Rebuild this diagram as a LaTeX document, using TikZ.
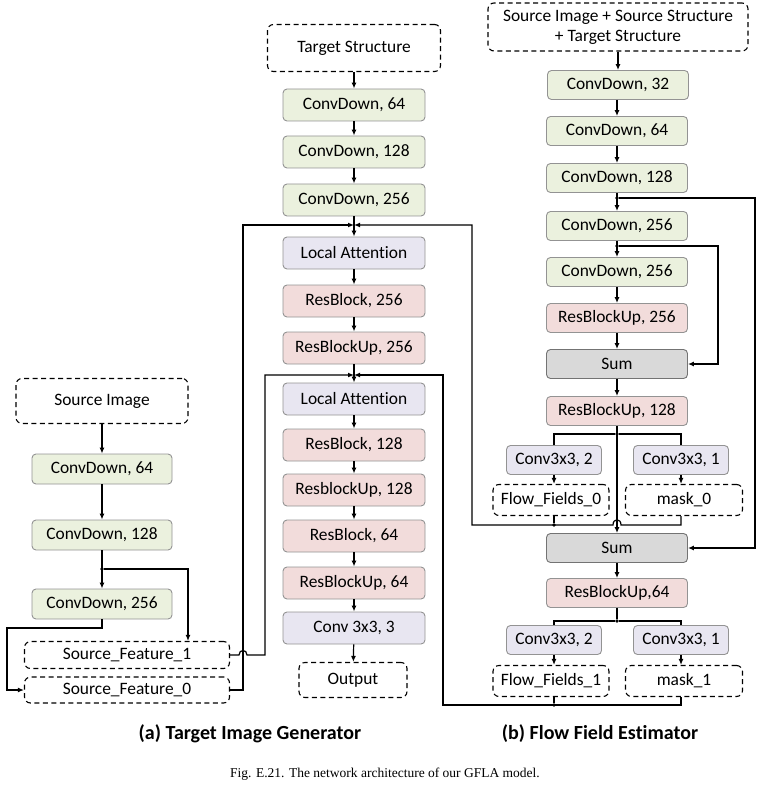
\documentclass[tikz,border=0pt]{standalone}
\usepackage{fontspec}
\setmainfont{Carlito}[Ligatures=NoCommon]
\newfontfamily\capfont{Liberation Serif}
\usetikzlibrary{arrows.meta,calc}
\definecolor{gfill}{HTML}{EBF1DE}
\definecolor{pfill}{HTML}{F2DCDB}
\definecolor{lfill}{HTML}{E8E6F1}
\definecolor{sfill}{HTML}{D9D9D9}
\definecolor{bord}{HTML}{939393}
\begin{document}
\begin{tikzpicture}[x=1pt,y=-1pt,
  box/.style={draw=bord,line width=0.9pt,rounded corners=4pt,inner sep=0pt,
    font=\fontsize{17.4}{20}\selectfont},
  abox/.style={box,minimum width=142pt,minimum height=32pt},
  lbox/.style={box,minimum width=140pt,minimum height=30pt},
  bbox/.style={box,minimum width=141pt,minimum height=29pt},
  cbox/.style={box,minimum width=95pt,minimum height=29pt,fill=lfill},
  green/.style={fill=gfill},
  pink/.style={fill=pfill},
  lav/.style={fill=lfill},
  grey/.style={fill=sfill,draw=gray!90!black},
  dbox/.style={draw=black,dash pattern=on 5pt off 3.5pt,line width=1.1pt,rounded corners=6pt,
    align=center,inner sep=0pt,font=\fontsize{17.4}{20}\selectfont},
  arr/.style={-{Latex[length=6pt,width=5pt]},line width=1.2pt},
  ln/.style={line width=1.2pt},
  jdot/.style={circle,fill=black,inner sep=0pt,minimum size=3.8pt}
]
\useasboundingbox (0,0) rectangle (763,786);

% ---------- column (a) ----------
\node[dbox,minimum width=173pt,minimum height=47pt] (ts) at (354,48) {Target Structure};
\node[abox,green] (a1) at (354,105) {ConvDown, 64};
\node[abox,green] (a2) at (354,152) {ConvDown, 128};
\node[abox,green] (a3) at (354,200) {ConvDown, 256};
\node[abox,lav]   (la1) at (354,253) {Local Attention};
\node[abox,pink]  (rb1) at (354,301) {ResBlock, 256};
\node[abox,pink]  (rbu1) at (354,348) {ResBlockUp, 256};
\node[abox,lav]   (la2) at (354,399) {Local Attention};
\node[abox,pink]  (rb2) at (354,445) {ResBlock, 128};
\node[abox,pink]  (rbu2) at (354,490) {ResblockUp, 128};
\node[abox,pink]  (rb3) at (354,536) {ResBlock, 64};
\node[abox,pink]  (rbu3) at (354,583) {ResBlockUp, 64};
\node[abox,lav]   (cv) at (354,628) {Conv 3x3, 3};
\node[dbox,minimum width=108pt,minimum height=35pt] (out) at (353,680) {Output};
\coordinate (ja1) at (354,225);
\coordinate (ja2) at (354,375);

\draw[arr] (ts) -- (a1);
\draw[arr] (a1) -- (a2);
\draw[arr] (a2) -- (a3);
\draw[arr] (a3) -- (la1);
\draw[arr] (la1) -- (rb1);
\draw[arr] (rb1) -- (rbu1);
\draw[arr] (rbu1) -- (la2);
\draw[arr] (la2) -- (rb2);
\draw[arr] (rb2) -- (rbu2);
\draw[arr] (rbu2) -- (rb3);
\draw[arr] (rb3) -- (rbu3);
\draw[arr] (rbu3) -- (cv);
\draw[arr] (cv) -- (out);

% ---------- left column ----------
\node[dbox,minimum width=172pt,minimum height=45pt] (si) at (102,401) {Source Image};
\node[lbox,green] (l1) at (102,469) {ConvDown, 64};
\node[lbox,green] (l2) at (102,535) {ConvDown, 128};
\node[lbox,green] (l3) at (102,604) {ConvDown, 256};
\node[dbox,minimum width=205pt,minimum height=27pt] (sf1) at (127,655) {Source\_Feature\_1};
\node[dbox,minimum width=205pt,minimum height=26pt] (sf0) at (127,690) {Source\_Feature\_0};
\node[jdot] (j1) at (102,569) {};

\draw[arr] (si) -- (l1);
\draw[arr] (l1) -- (l2);
\draw[arr] (l2) -- (l3);
\draw[arr] (j1) -| ($(sf1.north)+(61,0)$);
\draw[arr] (l3.south) |- (7,628) |- (sf0.west);
\draw[arr] (sf0.east) -| (243,225) -- (ja1);
\draw[arr] (sf1.east) -- (239,655) .. controls (239,649) and (247,649) .. (247,655) -- (265,655) |- (ja2);

% ---------- column (b) ----------
\node[dbox,minimum width=260pt,minimum height=48pt] (tb) at (618,27) {Source Image + Source Structure\\+ Target Structure};
\node[bbox,green] (b1) at (618,85) {ConvDown, 32};
\node[bbox,green] (b2) at (617,131) {ConvDown, 64};
\node[bbox,green] (b3) at (617,178) {ConvDown, 128};
\node[bbox,green] (b4) at (617,226) {ConvDown, 256};
\node[bbox,green] (b5) at (617,272) {ConvDown, 256};
\node[bbox,pink]  (b6) at (617,318) {ResBlockUp, 256};
\node[bbox,grey]  (sum1) at (617,364) {Sum};
\node[bbox,pink]  (b7) at (617,411) {ResBlockUp, 128};
\node[cbox] (c1) at (554,460) {Conv3x3, 2};
\node[cbox] (c2) at (681,460) {Conv3x3, 1};
\node[dbox,minimum width=116pt,minimum height=31pt] (ff0) at (551,500) {Flow\_Fields\_0};
\node[dbox,minimum width=117pt,minimum height=31pt] (m0) at (684,500) {mask\_0};
\node[bbox,grey]  (sum2) at (617,548) {Sum};
\node[bbox,pink]  (b8) at (617,593) {ResBlockUp,64};
\node[cbox] (c3) at (554,640) {Conv3x3, 2};
\node[cbox] (c4) at (681,640) {Conv3x3, 1};
\node[dbox,minimum width=116pt,minimum height=31pt] (ff1) at (551,681) {Flow\_Fields\_1};
\node[dbox,minimum width=117pt,minimum height=31pt] (m1) at (684,681) {mask\_1};

\node[jdot] (jb1) at (617,198) {};
\node[jdot] (jb2) at (617,246) {};
\node[jdot] (jb3) at (617,434) {};
\node[jdot] (jb4) at (554,525) {};
\node[jdot] (jb5) at (617,621) {};
\node[jdot] (jb6) at (554,705) {};

\draw[arr] (tb.south -| b1) -- (b1);
\draw[arr] (b1.south -| b2) -- (b2);
\draw[arr] (b2) -- (b3);
\draw[arr] (b3) -- (b4);
\draw[arr] (b4) -- (b5);
\draw[arr] (b5) -- (b6);
\draw[arr] (b6) -- (sum1);
\draw[arr] (sum1) -- (b7);
\draw[arr] (b7) -- (sum2);
\draw[arr] (sum2) -- (b8);
\draw[arr] (jb1) -- (755,198) |- (sum2.east);
\draw[arr] (jb2) -- (718,246) |- (sum1.east);

\draw[ln] (c1.north) |- (jb3) -| (c2.north);
\draw[arr] (c1.south) -- (c1.south |- ff0.north);
\draw[arr] (c2.south) -- (c2.south |- m0.north);
\draw[ln] (c1.south |- ff0.south) -- (jb4);
\draw[arr] (c2.south |- m0.south) -- (c2.south |- jb4) -- (621,525)
  .. controls (621,518) and (613,518) .. (613,525) -- (472,525) |- (ja1);

\draw[ln] (b8.south) -- (jb5);
\draw[ln] (c3.north) |- (jb5) -| (c4.north);
\draw[arr] (c3.south) -- (c3.south |- ff1.north);
\draw[arr] (c4.south) -- (c4.south |- m1.north);
\draw[ln] (c3.south |- ff1.south) -- (jb6);
\draw[arr] (c4.south |- m1.south) -- (c4.south |- jb6) -- (443,705) |- (ja2);

% ---------- captions ----------
\node[font=\fontsize{20}{24}\selectfont\bfseries] (capa) at (250,734) {(a) Target Image Generator};
\node[font=\fontsize{20}{24}\selectfont\bfseries] (capb) at (600,734) {(b) Flow Field Estimator};
\node[font=\capfont\fontsize{13.5}{16}\selectfont] (capf) at (385,774) {Fig. E.21. The network architecture of our GFLA model.};
\end{tikzpicture}
\end{document}
